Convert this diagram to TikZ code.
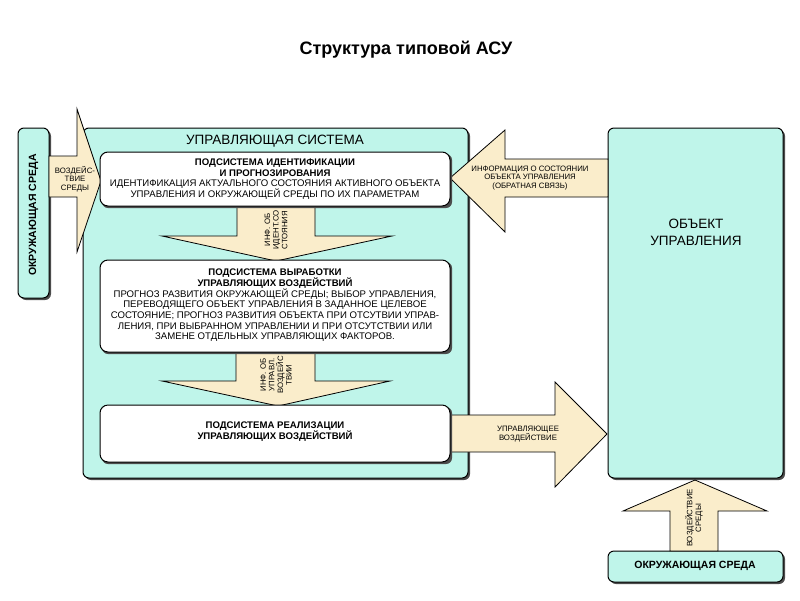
\documentclass[tikz,border=0pt]{standalone}
\usepackage{fontspec}
\setmainfont{Liberation Sans}
\begin{document}
\begin{tikzpicture}[x=1pt,y=-1pt,
  cy/.style={draw=black,line width=1pt,fill=cyanf,rounded corners=6pt},
  wb/.style={draw=black,line width=1pt,fill=white,rounded corners=8pt},
  ar/.style={draw=black,line width=0.8pt,fill=beige},
  sh/.style={fill=black!70,rounded corners=6pt},
  lbl/.style={font=\fontsize{7.8}{8.6}\selectfont,align=center,inner sep=0pt},
  txt/.style={font=\fontsize{9.6}{10.6}\selectfont,align=center,inner sep=0pt}]
\definecolor{cyanf}{HTML}{BFF5EA}
\definecolor{beige}{HTML}{FAEDCB}
\useasboundingbox (0,0) rectangle (800,600);
\node[font=\bfseries\fontsize{18}{21}\selectfont] (title) at (406,50) {Структура типовой АСУ};
% left env
\fill[sh] (20,130) rectangle (51,300);
\draw[cy] (18,128) rectangle (49,298);
\node[rotate=90,font=\bfseries\fontsize{10.5}{12}\selectfont] (env1) at (33.5,215) {ОКРУЖАЮЩАЯ СРЕДА};
% main system
\fill[sh] (85,130) rectangle (470,480);
\draw[cy] (83,128) rectangle (468,478);
\node[font=\fontsize{13.5}{16}\selectfont] (sys) at (275,141) {УПРАВЛЯЮЩАЯ СИСТЕМА};
% object
\fill[sh] (610,130) rectangle (785,480);
\draw[cy] (608,128) rectangle (783,478);
\node[font=\fontsize{13.5}{17}\selectfont,align=center] (obj) at (696,232) {ОБЪЕКТ\\УПРАВЛЕНИЯ};
% bottom env
\fill[sh] (610,553) rectangle (785,584);
\draw[cy] (608,551) rectangle (783,582);
% left arrow
\draw[ar] (49,156) -- (77,156) -- (77,109) -- (101,181) -- (77,252) -- (77,197) -- (49,197) -- cycle;
\node[lbl] (a1) at (75,179) {ВОЗДЕЙС-\\ТВИЕ\\СРЕДЫ};
% feedback arrow
\draw[ar] (608,159) -- (505,159) -- (505,130) -- (450,178) -- (505,232) -- (505,197) -- (608,197) -- cycle;
\node[lbl] (a2) at (530,178) {ИНФОРМАЦИЯ О СОСТОЯНИИ\\ОБЪЕКТА УПРАВЛЕНИЯ\\(ОБРАТНАЯ СВЯЗЬ)};
% down arrows
\draw[ar] (237,205) -- (315,205) -- (315,236) -- (392,236) -- (276,261) -- (162,236) -- (237,236) -- cycle;
\node[lbl,rotate=90] (a3) at (276,230) {ИНФ. ОБ\\ИДЕНТ.СО\\СТОЯНИЯ};
\draw[ar] (236,351) -- (315,351) -- (315,381) -- (390,381) -- (278,406) -- (162,381) -- (236,381) -- cycle;
\node[lbl,rotate=90] (a4) at (276,375) {ИНФ. ОБ\\УПРАВЛ.\\ВОЗДЕЙС\\ТВИИ};
% right arrow
\draw[ar] (449,415) -- (555,415) -- (555,382) -- (607,434) -- (555,487) -- (555,452) -- (449,452) -- cycle;
\node[lbl] (a5) at (528,434) {УПРАВЛЯЮЩЕЕ\\ВОЗДЕЙСТВИЕ};
% up arrow
\draw[ar] (670,551) -- (670,511) -- (623,511) -- (695,480) -- (767,511) -- (718,511) -- (718,551) -- cycle;
\node[lbl,rotate=90] (a6) at (694,518) {ВОЗДЕЙСТВИЕ\\СРЕДЫ};
\node[font=\bfseries\fontsize{10.5}{12}\selectfont] (env2) at (695,566) {ОКРУЖАЮЩАЯ СРЕДА};
% white boxes
\fill[sh] (102,154) rectangle (452,208);
\draw[wb] (100,152) rectangle (450,206);
\node[txt] (b1) at (275,179) {\textbf{ПОДСИСТЕМА ИДЕНТИФИКАЦИИ}\\\textbf{И ПРОГНОЗИРОВАНИЯ}\\ИДЕНТИФИКАЦИЯ АКТУАЛЬНОГО СОСТОЯНИЯ АКТИВНОГО ОБЪЕКТА\\УПРАВЛЕНИЯ И ОКРУЖАЮЩЕЙ СРЕДЫ ПО ИХ ПАРАМЕТРАМ};
\fill[sh] (102,262) rectangle (452,354);
\draw[wb] (100,260) rectangle (450,352);
\node[txt] (b2) at (275,305) {\textbf{ПОДСИСТЕМА ВЫРАБОТКИ}\\\textbf{УПРАВЛЯЮЩИХ ВОЗДЕЙСТВИЙ}\\ПРОГНОЗ РАЗВИТИЯ ОКРУЖАЮЩЕЙ СРЕДЫ; ВЫБОР УПРАВЛЕНИЯ,\\ПЕРЕВОДЯЩЕГО ОБЪЕКТ УПРАВЛЕНИЯ В ЗАДАННОЕ ЦЕЛЕВОЕ\\СОСТОЯНИЕ; ПРОГНОЗ РАЗВИТИЯ ОБЪЕКТА ПРИ ОТСУТВИИ УПРАВ-\\ЛЕНИЯ, ПРИ ВЫБРАННОМ УПРАВЛЕНИИ И ПРИ ОТСУТСТВИИ ИЛИ\\ЗАМЕНЕ ОТДЕЛЬНЫХ УПРАВЛЯЮЩИХ ФАКТОРОВ.};
\fill[sh] (102,407) rectangle (452,464);
\draw[wb] (100,405) rectangle (450,462);
\node[txt,font=\bfseries\fontsize{9.6}{11}\selectfont] (b3) at (275,432) {ПОДСИСТЕМА РЕАЛИЗАЦИИ\\УПРАВЛЯЮЩИХ ВОЗДЕЙСТВИЙ};
\end{tikzpicture}
\end{document}
